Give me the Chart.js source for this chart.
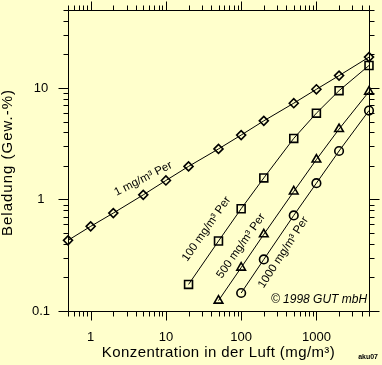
<!DOCTYPE html>
<html>
<head>
<meta charset="utf-8">
<script src="https://cdn.jsdelivr.net/npm/chart.js@4.4.1/dist/chart.umd.min.js"></script>
<style>
html,body{margin:0;padding:0;background:#ffffcc;}
canvas{display:block;}
</style>
</head>
<body>
<canvas id="c" width="382" height="365"></canvas>
<script>
// ---- data ----
const xTickLabels = [1, 10, 100, 1000];
const yTickLabels = [0.1, 1, 10];

const conc1    = [0.5, 1, 2, 5, 10, 20, 50, 100, 200, 500, 1000, 2000, 5000];
const load1    = [0.43, 0.574, 0.755, 1.10, 1.48, 1.98, 2.84, 3.78, 5.07, 7.3, 9.73, 12.9, 18.9];
const conc100  = [20, 50, 100, 200, 500, 1000, 2000, 5000];
const load100  = [0.173, 0.424, 0.826, 1.56, 3.53, 5.94, 9.46, 15.9];
const conc500  = [50, 100, 200, 500, 1000, 2000, 5000];
const load500  = [0.124, 0.245, 0.487, 1.18, 2.28, 4.28, 9.27];
const conc1000 = [100, 200, 500, 1000, 2000, 5000];
const load1000 = [0.145, 0.29, 0.72, 1.40, 2.72, 6.27];

const seriesNames = ['1 mg/m³ Per', '100 mg/m³ Per', '500 mg/m³ Per', '1000 mg/m³ Per'];
const xTitle = 'Konzentration in der Luft (mg/m³)';
const yTitle = 'Beladung (Gew.-%)';
const copyright = '© 1998 GUT mbH';
const stamp = 'aku07';

// ---- chart ----
const BG = '#ffffcc';
const FONT = "'Liberation Sans', Arial, sans-serif";

function toPts(xs, ys){ return xs.map((x,i)=>({x:x, y:ys[i]})); }

function mkSet(label, xs, ys, style, r){
  return {
    label: label,
    data: toPts(xs, ys),
    borderColor: '#000',
    borderWidth: 1,
    pointStyle: style,
    pointRadius: r,
    pointBorderWidth: 1.6,
    pointBorderColor: '#000',
    pointBackgroundColor: 'rgba(0,0,0,0)',
    showLine: true,
    tension: 0,
    clip: false
  };
}

// label placement in data coordinates (text centre) and angle
const seriesLabelPos = [
  {x: 5.0,  y: 1.53,  angle: -27},
  {x: 34.6, y: 0.543, angle: -55},
  {x: 99.5, y: 0.383, angle: -55},
  {x: 364,  y: 0.335, angle: -57}
];
const copyrightPos = {x: 1083, y: 0.1255};

const frameTicks = {
  id: 'frameTicks',
  beforeDraw(chart){
    const ctx = chart.ctx;
    ctx.save();
    ctx.fillStyle = BG;
    ctx.fillRect(0, 0, chart.width, chart.height);
    ctx.restore();
  },
  afterDraw(chart){
    const ctx = chart.ctx;
    const a = chart.chartArea;
    const xs = chart.scales.x, ys = chart.scales.y;
    const L = Math.round(a.left) + 0.5, R = Math.round(a.right) + 0.5;
    const T = Math.round(a.top) + 0.5, B = Math.round(a.bottom) + 0.5;
    ctx.save();
    ctx.strokeStyle = '#000';
    ctx.lineWidth = 1;
    ctx.beginPath();
    ctx.rect(L, T, R - L, B - T);
    ctx.stroke();

    const MAJ = 9, MIN = 5;
    ctx.beginPath();
    // x ticks (bottom and top, outward)
    for (let e = -1; e <= 3; e++) {
      for (let m = 1; m <= 9; m++) {
        const v = m * Math.pow(10, e);
        if (v < xs.min * 0.999 || v > xs.max * 1.001) continue;
        const p = Math.round(xs.getPixelForValue(v)) + 0.5;
        const len = (m === 1) ? MAJ : MIN;
        ctx.moveTo(p, B); ctx.lineTo(p, B + len);
        ctx.moveTo(p, T); ctx.lineTo(p, T - len);
      }
    }
    // y ticks (left and right, outward)
    for (let e = -1; e <= 1; e++) {
      for (let m = 1; m <= 9; m++) {
        const v = m * Math.pow(10, e);
        if (v < ys.min * 0.999 || v > ys.max * 1.001) continue;
        const p = Math.round(ys.getPixelForValue(v)) + 0.5;
        const len = (m === 1) ? MAJ + 1 : MIN;
        ctx.moveTo(L, p); ctx.lineTo(L - len, p);
        ctx.moveTo(R, p); ctx.lineTo(R + len, p);
      }
    }
    ctx.stroke();

    ctx.fillStyle = '#000';
    // axis titles
    ctx.textAlign = 'center';
    ctx.textBaseline = 'middle';
    ctx.font = '15px ' + FONT;
    ctx.letterSpacing = '0.4px';
    ctx.fillText(xTitle, (a.left + a.right) / 2, 353);
    ctx.save();
    ctx.letterSpacing = '1px';
    ctx.translate(8, (a.top + a.bottom) / 2 + 2);
    ctx.rotate(-Math.PI / 2);
    ctx.fillText(yTitle, 0, 0);
    ctx.restore();
    ctx.letterSpacing = '0px';

    // series labels
    ctx.font = '11.5px ' + FONT;
    seriesLabelPos.forEach((p, i) => {
      ctx.save();
      ctx.translate(xs.getPixelForValue(p.x), ys.getPixelForValue(p.y));
      ctx.rotate(p.angle * Math.PI / 180);
      ctx.fillText(seriesNames[i], 0, 0);
      ctx.restore();
    });

    // copyright
    ctx.font = 'italic 12px ' + FONT;
    ctx.fillText(copyright, xs.getPixelForValue(copyrightPos.x), ys.getPixelForValue(copyrightPos.y));

    // stamp
    ctx.font = 'bold 7px ' + FONT;
    ctx.textAlign = 'right';
    ctx.fillText(stamp, chart.width - 4, 357);
    ctx.restore();
  }
};

function zeroPad(scale){
  scale.paddingLeft = 0; scale.paddingRight = 0;
  scale.paddingTop = 0; scale.paddingBottom = 0;
}

new Chart(document.getElementById('c'), {
  type: 'scatter',
  data: {
    datasets: [
      mkSet(seriesNames[0], conc1, load1, 'rectRot', 4.5),
      mkSet(seriesNames[1], conc100, load100, 'rect', 5.6),
      mkSet(seriesNames[2], conc500, load500, 'triangle', 5),
      mkSet(seriesNames[3], conc1000, load1000, 'circle', 4.3)
    ]
  },
  options: {
    responsive: false,
    animation: false,
    devicePixelRatio: 1,
    layout: {padding: {top: 10, right: 13, left: 0, bottom: 0}},
    plugins: {legend: {display: false}, tooltip: {enabled: false}},
    scales: {
      x: {
        type: 'logarithmic',
        min: 0.5, max: 5000,
        grid: {display: false},
        border: {display: false},
        afterBuildTicks: s => { s.ticks = xTickLabels.map(v => ({value: v})); },
        afterFit: s => { s.height = 54; zeroPad(s); },
        ticks: {
          autoSkip: false, maxRotation: 0, padding: 11, color: '#000',
          font: {family: FONT, size: 13},
          callback: v => String(v)
        }
      },
      y: {
        type: 'logarithmic',
        min: 0.1, max: 50,
        grid: {display: false},
        border: {display: false},
        afterBuildTicks: s => { s.ticks = yTickLabels.map(v => ({value: v})); },
        afterFit: s => { s.width = 68; zeroPad(s); },
        ticks: {
          autoSkip: false, padding: 10, color: '#000', crossAlign: 'center',
          font: {family: FONT, size: 13},
          callback: v => String(v)
        }
      }
    }
  },
  plugins: [frameTicks]
});
</script>
</body>
</html>
